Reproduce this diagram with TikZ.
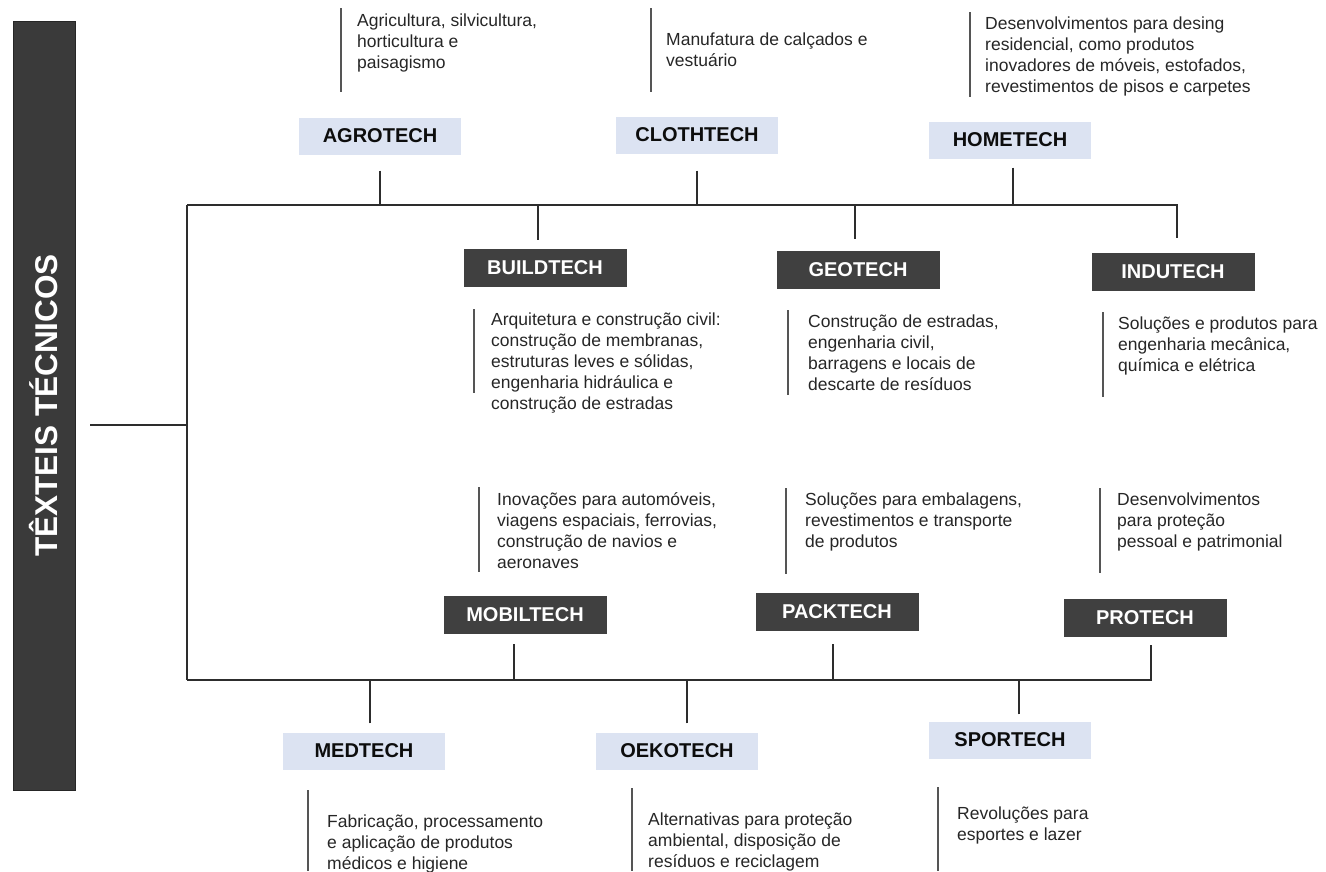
\documentclass[tikz,border=0pt]{standalone}
\usepackage{fontspec}
\setmainfont{Liberation Sans}
\definecolor{boxlight}{RGB}{220,227,242}
\definecolor{boxdark}{RGB}{64,64,64}
\definecolor{bardark}{RGB}{58,58,58}
\definecolor{busgray}{RGB}{45,45,45}
\definecolor{linegray}{RGB}{85,85,85}
\definecolor{txtgray}{RGB}{38,38,38}

\begin{document}
\begin{tikzpicture}[x=1pt, y=-1pt,
  lightbox/.style={fill=boxlight, minimum width=162pt, minimum height=37pt, inner sep=0pt,
    font=\fontsize{20}{22}\selectfont\bfseries, text=black!95},
  darkbox/.style={fill=boxdark, minimum width=163pt, minimum height=38pt, inner sep=0pt,
    font=\fontsize{20}{22}\selectfont\bfseries, text=white},
  desc/.style={anchor=north west, align=left, inner sep=0pt,
    font=\fontsize{17.5}{21}\selectfont, text=txtgray},
  descline/.style={draw=linegray, line width=1.8pt},
  bus/.style={draw=busgray, line width=1.4pt}]
\useasboundingbox (0,0) rectangle (1326,871);

% title bar
\node[rotate=90, fill=bardark, draw=black!85, minimum width=769pt, minimum height=62pt, inner sep=0pt,
  text=white, font=\fontsize{31.5}{32}\selectfont\bfseries] (title) at (44,405.5) {TÊXTEIS TÉCNICOS};

% category boxes
\node[lightbox] (agro) at (380,136) {AGROTECH};
\node[lightbox] (cloth) at (697,135) {CLOTHTECH};
\node[lightbox] (home) at (1010,140) {HOMETECH};
\node[darkbox] (build) at (545,268) {BUILDTECH};
\node[darkbox] (geo) at (858,270) {GEOTECH};
\node[darkbox] (indu) at (1173,272) {INDUTECH};
\node[darkbox] (mobil) at (525,615) {MOBILTECH};
\node[darkbox] (pack) at (837,612) {PACKTECH};
\node[darkbox] (pro) at (1145,618) {PROTECH};
\node[lightbox] (med) at (364,751) {MEDTECH};
\node[lightbox] (oeko) at (677,751) {OEKOTECH};
\node[lightbox] (sport) at (1010,740) {SPORTECH};

% tree
\coordinate (root) at (90,425);
\coordinate (topL) at (187,205);
\coordinate (botL) at (187,680);
\draw[bus] (root) -- (root -| topL);
\draw[bus] (topL) -- (botL);
\draw[bus] (topL) -- ([xshift=4pt]topL -| indu) -- ([xshift=4pt,yshift=15pt]indu.north);
\draw[bus] (botL) -- ([xshift=6pt]botL -| pro) -- ([xshift=6pt,yshift=-8pt]pro.south);
\draw[bus] ([yshift=-16pt]agro.south) -- (agro |- topL);
\draw[bus] ([yshift=-17pt]cloth.south) -- (cloth |- topL);
\draw[bus] ([xshift=3pt,yshift=-9pt]home.south) -- ([xshift=3pt]home |- topL);
\draw[bus] ([xshift=-7pt,yshift=9pt]build.north) -- ([xshift=-7pt]build |- topL);
\draw[bus] ([xshift=-3pt,yshift=12pt]geo.north) -- ([xshift=-3pt]geo |- topL);
\draw[bus] ([xshift=-11pt,yshift=-10pt]mobil.south) -- ([xshift=-11pt]mobil |- botL);
\draw[bus] ([xshift=-4pt,yshift=-13pt]pack.south) -- ([xshift=-4pt]pack |- botL);
\draw[bus] ([xshift=6pt,yshift=9pt]med.north) -- ([xshift=6pt]med |- botL);
\draw[bus] ([xshift=10pt,yshift=9pt]oeko.north) -- ([xshift=10pt]oeko |- botL);
\draw[bus] ([xshift=9pt,yshift=7pt]sport.north) -- ([xshift=9pt]sport |- botL);

% descriptions
\node[desc] (agrod) at (357,14) {Agricultura, silvicultura,\\horticultura e\\paisagismo};
\node[desc] (clothd) at (666,33) {Manufatura de calçados e\\vestuário};
\node[desc] (homed) at (985,17) {Desenvolvimentos para desing\\residencial, como produtos\\inovadores de móveis, estofados,\\revestimentos de pisos e carpetes};
\node[desc] (buildd) at (491,313) {Arquitetura e construção civil:\\construção de membranas,\\estruturas leves e sólidas,\\engenharia hidráulica e\\construção de estradas};
\node[desc] (geod) at (808,315) {Construção de estradas,\\engenharia civil,\\barragens e locais de\\descarte de resíduos};
\node[desc] (indud) at (1118,317) {Soluções e produtos para\\engenharia mecânica,\\química e elétrica};
\node[desc] (mobild) at (497,492) {Inovações para automóveis,\\viagens espaciais, ferrovias,\\construção de navios e\\aeronaves};
\node[desc] (packd) at (805,493) {Soluções para embalagens,\\revestimentos e transporte\\de produtos};
\node[desc] (prod) at (1117,493) {Desenvolvimentos\\para proteção\\pessoal e patrimonial};
\node[desc] (medd) at (327,815) {Fabricação, processamento\\e aplicação de produtos\\médicos e higiene};
\node[desc] (oekod) at (648,813) {Alternativas para proteção\\ambiental, disposição de\\resíduos e reciclagem};
\node[desc] (sportd) at (957,807) {Revoluções para\\esportes e lazer};

\draw[descline] ([xshift=-16pt,yshift=6pt]agrod.north west) -- ++(0,84);
\draw[descline] ([xshift=-15pt,yshift=25pt]clothd.north west) -- ++(0,84);
\draw[descline] ([xshift=-15pt,yshift=5pt]homed.north west) -- ++(0,85);
\draw[descline] ([xshift=-17pt,yshift=4pt]buildd.north west) -- ++(0,84);
\draw[descline] ([xshift=-20pt,yshift=5pt]geod.north west) -- ++(0,85);
\draw[descline] ([xshift=-15pt,yshift=5pt]indud.north west) -- ++(0,85);
\draw[descline] ([xshift=-18pt,yshift=5pt]mobild.north west) -- ++(0,85);
\draw[descline] ([xshift=-19pt,yshift=5pt]packd.north west) -- ++(0,86);
\draw[descline] ([xshift=-17pt,yshift=5pt]prod.north west) -- ++(0,85);
\draw[descline] ([xshift=-19pt,yshift=25pt]medd.north west) -- ++(0,81);
\draw[descline] ([xshift=-16pt,yshift=25pt]oekod.north west) -- ++(0,83);
\draw[descline] ([xshift=-19pt,yshift=20pt]sportd.north west) -- ++(0,84);
\end{tikzpicture}
\end{document}
